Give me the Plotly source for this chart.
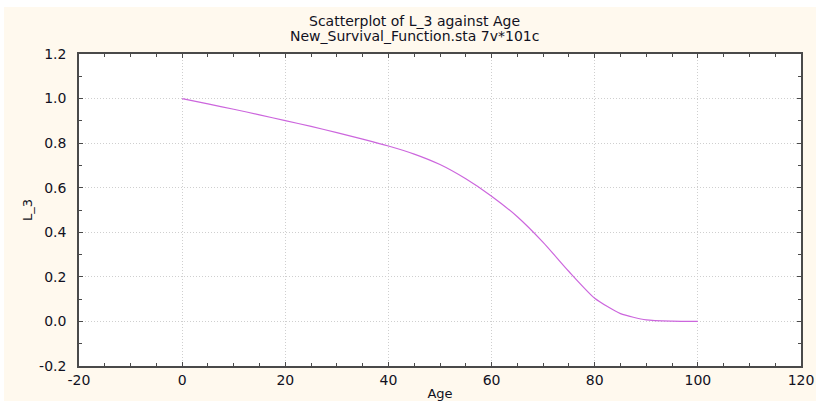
import plotly.graph_objects as go

# Data
age = [0, 5, 10, 15, 20, 25, 30, 35, 40, 45, 50, 55, 60, 65, 70, 75, 80, 85, 90, 95, 100]
l_3 = [1.000, 0.976, 0.952, 0.927, 0.901, 0.875, 0.847, 0.818, 0.787, 0.751, 0.704,
       0.640, 0.562, 0.470, 0.355, 0.224, 0.104, 0.035, 0.007, 0.001, 0.000]

x_ticks = [-20, 0, 20, 40, 60, 80, 100, 120]
x_tick_text = ["-20", "0", "20", "40", "60", "80", "100", "120"]
y_ticks = [-0.2, 0.0, 0.2, 0.4, 0.6, 0.8, 1.0, 1.2]
y_tick_text = ["-0.2", "0.0", "0.2", "0.4", "0.6", "0.8", "1.0", "1.2"]

title_line1 = "Scatterplot of L_3 against Age"
title_line2 = "New_Survival_Function.sta 7v*101c"
x_label = "Age"
y_label = "L_3"

FONT = "DejaVu Sans, Liberation Sans, Arial, sans-serif"
CREAM = "#FFF9EE"
AXIS = "#4a4a4a"
TXT = "#111122"

fig = go.Figure()
fig.add_trace(go.Scatter(x=age, y=l_3, mode="lines",
                         line=dict(color="#CC66DD", width=1.2, shape="spline", smoothing=0.6),
                         showlegend=False, hoverinfo="skip"))

axis_common = dict(
    showline=True, linecolor=AXIS, linewidth=1.5, mirror="ticks",
    ticks="inside", ticklen=4, tickwidth=1, tickcolor=AXIS,
    showgrid=True, gridcolor="#cfcfcf", griddash="1px,2px", gridwidth=1,
    zeroline=False,
    tickfont=dict(family=FONT, size=14, color=TXT),
)

fig.update_xaxes(range=[-20, 120], tickvals=x_ticks, ticktext=x_tick_text,
                 minor=dict(dtick=5, tick0=0, ticks="inside", ticklen=3, tickcolor=AXIS, showgrid=False),
                 title=dict(text=x_label, font=dict(family=FONT, size=13, color=TXT), standoff=3),
                 ticklabelstandoff=0,
                 **axis_common)
fig.update_yaxes(range=[-0.2, 1.2], tickvals=y_ticks, ticktext=y_tick_text,
                 minor=dict(dtick=0.1, tick0=0, ticks="inside", ticklen=3, tickcolor=AXIS, showgrid=False),
                 title=dict(text=y_label, font=dict(family=FONT, size=13, color=TXT), standoff=4),
                 ticklabelstandoff=8,
                 **axis_common)

fig.update_layout(
    width=816, height=401,
    margin=dict(l=79, r=15, t=54, b=35, autoexpand=False),
    paper_bgcolor=CREAM, plot_bgcolor="white",
    font=dict(family=FONT, size=13, color=TXT),
    shapes=[
        dict(type="rect", xref="paper", yref="paper", layer="below",
             x0=-79 / 722, x1=(816 - 79) / 722, y0=(366 - 7) / 312, y1=366 / 312,
             fillcolor="white", line=dict(width=0)),
        dict(type="rect", xref="paper", yref="paper", layer="below",
             x0=-79 / 722, x1=(4 - 79) / 722, y0=-35 / 312, y1=366 / 312,
             fillcolor="white", line=dict(width=0)),
    ],
    annotations=[
        dict(text=title_line1, xref="paper", yref="paper", x=(414 - 79) / 722, y=(366 - 21) / 312,
             showarrow=False, xanchor="center", yanchor="middle",
             font=dict(family=FONT, size=14, color=TXT)),
        dict(text=title_line2, xref="paper", yref="paper", x=(414 - 79) / 722, y=(366 - 36) / 312,
             showarrow=False, xanchor="center", yanchor="middle",
             font=dict(family=FONT, size=14, color=TXT)),
    ],
)

fig.write_html("out.html", config={"displayModeBar": False},
               post_script="document.body.style.margin='0';document.body.style.padding='0';")
